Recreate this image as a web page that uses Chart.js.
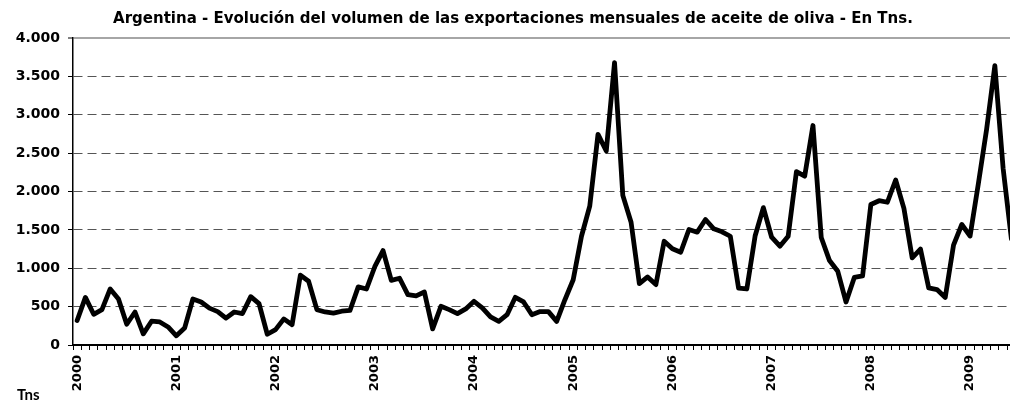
<!DOCTYPE html>
<html>
<head>
<meta charset="utf-8">
<script src="https://cdn.jsdelivr.net/npm/chart.js@4.4.1/dist/chart.umd.min.js"></script>
<style>
html, body { margin: 0; padding: 0; background: #ffffff; overflow: hidden; width: 1010px; height: 402px; }
#wrap { position: relative; width: 1032px; height: 402px; }
#unit { position: absolute; left: 17px; top: 385px; font: bold 15px Lato, "DejaVu Sans", sans-serif; color: #000; }
</style>
</head>
<body>
<div id="wrap">
  <canvas id="c" width="1032" height="402"></canvas>
  <div id="unit">Tns</div>
</div>
<script>
// ---------- data ----------
const titleText = "Argentina - Evolución del volumen de las exportaciones mensuales de aceite de oliva - En Tns.";
const years = [2000, 2001, 2002, 2003, 2004, 2005, 2006, 2007, 2008, 2009];
const monthCodes = ["01","02","03","04","05","06","07","08","09","10","11","12"];
// monthly exports (Tns), Jan 2000 .. Jun 2009
const tonnes2000 = [320, 620, 400, 460, 730, 600, 270, 430, 145, 310, 300, 235];
const tonnes2001 = [120, 220, 600, 560, 480, 435, 350, 430, 410, 630, 540, 140];
const tonnes2002 = [200, 340, 265, 910, 830, 460, 430, 415, 440, 450, 757, 730];
const tonnes2003 = [1020, 1230, 843, 870, 656, 640, 690, 210, 504, 461, 408, 470];
const tonnes2004 = [569, 483, 365, 308, 395, 621, 561, 395, 435, 435, 308, 590];
const tonnes2005 = [850, 1417, 1809, 2744, 2527, 3680, 1950, 1600, 800, 887, 787, 1352];
const tonnes2006 = [1253, 1209, 1505, 1470, 1635, 1514, 1475, 1417, 740, 730, 1420, 1790];
const tonnes2007 = [1404, 1287, 1417, 2260, 2200, 2860, 1400, 1100, 960, 560, 880, 900];
const tonnes2008 = [1830, 1880, 1860, 2150, 1780, 1135, 1250, 744, 722, 620, 1300, 1570];
const tonnes2009 = [1420, 2100, 2810, 3640, 2300, 1380];
const yTickValues = [0, 500, 1000, 1500, 2000, 2500, 3000, 3500, 4000];
const unitLabel = "Tns";

const tonnes = [].concat(tonnes2000, tonnes2001, tonnes2002, tonnes2003, tonnes2004,
                         tonnes2005, tonnes2006, tonnes2007, tonnes2008, tonnes2009);
const categories = years.flatMap(y => monthCodes.map(m => y + "-" + m)).slice(0, tonnes.length);

document.getElementById("unit").textContent = unitLabel;

function fmtThousands(v) {
  return String(v).replace(/\B(?=(\d{3})+(?!\d))/g, ".");
}

const titlePlugin = {
  id: "customTitle",
  afterDraw(chart) {
    const ctx = chart.ctx;
    ctx.save();
    ctx.font = "bold 15px 'DejaVu Sans', sans-serif";
    ctx.fillStyle = "#000";
    ctx.textAlign = "center";
    ctx.textBaseline = "middle";
    ctx.fillText(titleText, 513, 19);
    ctx.restore();
  }
};

new Chart(document.getElementById("c"), {
  type: "line",
  data: {
    labels: categories,
    datasets: [{
      data: tonnes,
      borderColor: "#000000",
      borderWidth: 4.8,
      borderJoinStyle: "round",
      borderCapStyle: "round",
      pointRadius: 0,
      pointHoverRadius: 0,
      tension: 0,
      fill: false
    }]
  },
  options: {
    responsive: false,
    animation: false,
    events: [],
    layout: { padding: { top: 38, left: 0, right: 0, bottom: 0 } },
    plugins: {
      legend: { display: false },
      tooltip: { enabled: false },
      title: { display: false }
    },
    scales: {
      x: {
        type: "category",
        offset: true,
        afterFit(scale) { scale.height = 57; },
        grid: {
          drawOnChartArea: false,
          drawTicks: true,
          tickLength: 5,
          tickColor: "#000",
          tickWidth: 1,
          offset: true
        },
        border: { display: true, color: "#000", width: 2 },
        ticks: {
          autoSkip: false,
          minRotation: 90,
          maxRotation: 90,
          padding: 5,
          color: "#000",
          font: { family: "'DejaVu Sans', sans-serif", weight: "bold", size: 13 },
          callback(value, index) {
            const lab = categories[index];
            return lab.endsWith("-01") ? lab.slice(0, 4) : "";
          }
        }
      },
      y: {
        min: 0,
        max: 4000,
        afterFit(scale) { scale.width = 73; },
        afterBuildTicks(scale) { scale.ticks = yTickValues.map(v => ({ value: v })); },
        grid: {
          drawTicks: true,
          tickLength: 5,
          tickColor: "#000",
          tickWidth: 1,
          color(ctx) {
            if (!ctx.tick) return "#555";
            if (ctx.tick.value === 0) return "rgba(0,0,0,0)";
            if (ctx.tick.value === 4000) return "#a6a6a6";
            return "#555";
          },
          lineWidth(ctx) {
            return ctx.tick && ctx.tick.value === 4000 ? 2 : 1;
          }
        },
        border: {
          display: true,
          color: "#000",
          width: 1.5,
          dash(ctx) {
            if (!ctx.tick || ctx.tick.value === 4000 || ctx.tick.value === 0) return [];
            return [9, 5];
          }
        },
        ticks: {
          padding: 8,
          color: "#000",
          font: { family: "'DejaVu Sans', sans-serif", weight: "bold", size: 14 },
          callback(value) { return fmtThousands(value); }
        }
      }
    }
  },
  plugins: [titlePlugin]
});
</script>
</body>
</html>
